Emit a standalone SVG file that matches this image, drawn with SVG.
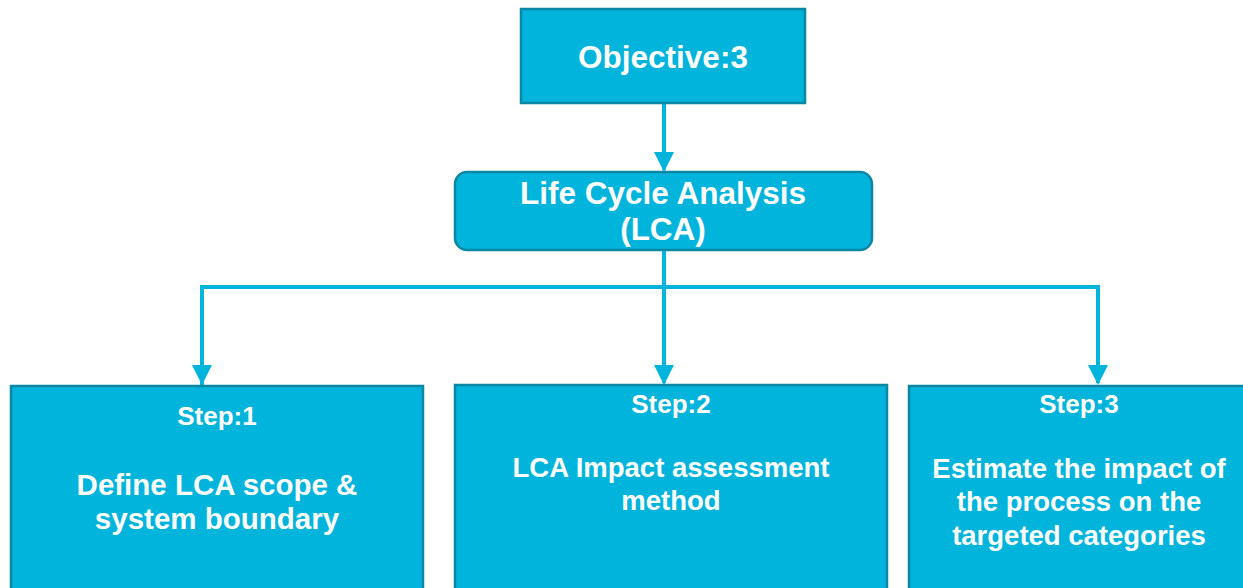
<svg xmlns="http://www.w3.org/2000/svg" width="1243" height="588" viewBox="0 0 1243 588">
<style>
.box{fill:#00B4DC;stroke:#0B86A3;stroke-width:2.5}
.t{fill:#fff;font-family:"Liberation Sans",Arial,sans-serif;font-weight:bold;text-anchor:middle}
.conn{fill:none;stroke:#00B4DC;stroke-width:4}
</style>
<defs>
<marker id="ah" markerWidth="5" markerHeight="5" refX="4.5" refY="2.5" orient="auto" markerUnits="strokeWidth" viewBox="0 0 5 5">
<path d="M0,0 L5,2.5 L0,5 Z" fill="#00B4DC"/>
</marker>
</defs>
<rect width="1243" height="588" fill="#fff"/>
<g id="connectors">
<path class="conn" d="M664,103 V170" marker-end="url(#ah)"/>
<path class="conn" d="M664,250 V383" marker-end="url(#ah)"/>
<path class="conn" d="M202,385 V287 H1098 V383" marker-end="url(#ah)"/>
<path class="conn" d="M202,287 V383" marker-end="url(#ah)"/>
</g>
<g id="objective">
<rect class="box" x="521" y="9" width="284" height="94"/>
<text class="t" x="663" y="68" font-size="31.5">Objective:3</text>
</g>
<g id="lca">
<rect class="box" x="455" y="172" width="417" height="78" rx="12"/>
<text class="t" x="663" y="204" font-size="31.5">Life Cycle Analysis</text>
<text class="t" x="663" y="240" font-size="31.5">(LCA)</text>
</g>
<g id="step1">
<rect class="box" x="11" y="386" width="412" height="210"/>
<text class="t" x="217" y="425" font-size="26">Step:1</text>
<text class="t" x="217" y="495" font-size="29.5">Define LCA scope &amp;</text>
<text class="t" x="217" y="529" font-size="29.5">system boundary</text>
</g>
<g id="step2">
<rect class="box" x="455" y="385" width="432" height="211"/>
<text class="t" x="671" y="413" font-size="26">Step:2</text>
<text class="t" x="671" y="477" font-size="27.5">LCA Impact assessment</text>
<text class="t" x="671" y="510" font-size="27.5">method</text>
</g>
<g id="step3">
<rect class="box" x="909" y="386" width="340" height="210"/>
<text class="t" x="1079" y="413" font-size="26">Step:3</text>
<text class="t" x="1079" y="478" font-size="27.5">Estimate the impact of</text>
<text class="t" x="1079" y="511" font-size="27.5">the process on the</text>
<text class="t" x="1079" y="545" font-size="27.5">targeted categories</text>
</g>
</svg>
